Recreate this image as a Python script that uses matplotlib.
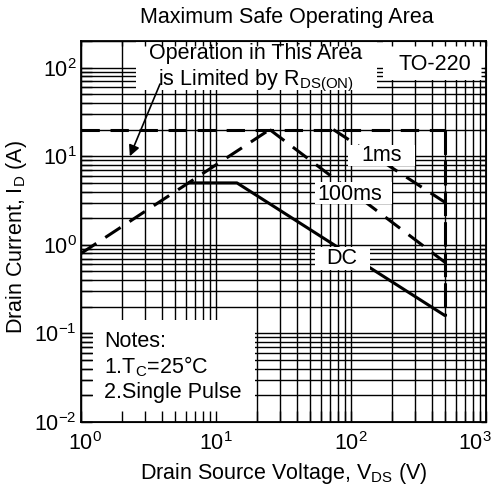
"""
soa_chart.py
Maximum Safe Operating Area plot (TO-220 MOSFET datasheet style)
"""
import matplotlib
matplotlib.use("Agg")
import matplotlib.pyplot as plt
from matplotlib.patches import Rectangle
from matplotlib.ticker import LogLocator, FixedLocator
from matplotlib.transforms import ScaledTranslation

plt.rcParams["font.family"] = ["Liberation Sans", "DejaVu Sans"]
plt.rcParams["mathtext.fontset"] = "custom"
plt.rcParams["mathtext.rm"] = "Liberation Sans"
plt.rcParams["mathtext.it"] = "Liberation Sans:italic"
plt.rcParams["mathtext.default"] = "regular"

# SOA boundaries, V (volts) vs I (amps)
rds_v = [1, 25]
rds_i = [0.8, 20]
idm_v = [1, 500]
idm_i = [20, 20]
ms1_v = [74, 500]
ms1_i = [20, 3.0]
ms100_v = [25, 500]
ms100_i = [20, 0.63]
dc_v = [6.2, 14.3, 500]
dc_i = [5, 5, 0.158]
vdss_v = [500, 500]
vdss_i = [20, 0.158]

x_lim = [1, 1000]
y_lim = [0.01, 200]
x_major = [1, 10, 100, 1000]
y_major = [0.01, 0.1, 1, 10, 100]

FS = 15.5
W, H = 493, 494
L, R, T, B = 81, 486, 41, 422


def af(x, y):
    # pixel position -> axes fraction
    return (x - L) / (R - L), (B - y) / (B - T)


def setup_log(a):
    a.set_xscale("log")
    a.set_yscale("log")
    a.set_xlim(x_lim)
    a.set_ylim(y_lim)
    a.xaxis.set_major_locator(FixedLocator(x_major))
    a.yaxis.set_major_locator(FixedLocator(y_major))
    for axis in (a.xaxis, a.yaxis):
        axis.set_minor_locator(LogLocator(base=10, subs=range(2, 10), numticks=20))


def overlay(fig, rect, base, **tick_kw):
    # transparent axes on top, only for tick marks
    a = fig.add_axes(rect)
    setup_log(a)
    a.grid(False, which="both")
    a.set_zorder(base.get_zorder() + 1)
    a.patch.set_visible(False)
    a.tick_params(which="both", direction="in", width=1.0,
                  labelbottom=False, labelleft=False, **tick_kw)
    return a


def main():
    fig = plt.figure(figsize=(W / 100, H / 100), dpi=100)
    rect = [L / W, 1 - B / H, (R - L) / W, (B - T) / H]
    ax = fig.add_axes(rect)
    setup_log(ax)
    ax.set_axisbelow(True)
    ax.grid(True, which="both", color="k", lw=1.0)
    ax.tick_params(which="both", length=0, labelsize=FS)
    ax.tick_params(axis="x", pad=7)
    ax.tick_params(axis="y", pad=3)
    for s in ax.spines.values():
        s.set_visible(False)

    # first x label sits a bit right, last one pulled in from the edge
    xt = ax.xaxis.get_major_ticks()
    for k, d in ((0, 4), (len(xt) - 1, -11)):
        lab = xt[k].label1
        lab.set_transform(lab.get_transform() + ScaledTranslation(d / 100, 0, fig.dpi_scale_trans))

    dash = (0, (6, 3.5))
    kw = dict(color="k", lw=2.2, zorder=2, solid_capstyle="butt")
    ax.plot(idm_v, idm_i, linestyle=dash, **kw)
    ax.plot(rds_v, rds_i, linestyle=dash, **kw)
    ax.plot(ms1_v, ms1_i, linestyle=dash, **kw)
    ax.plot(ms100_v, ms100_i, linestyle=dash, **kw)
    ax.plot(vdss_v, vdss_i, linestyle=(0, (8, 2)), **kw)
    ax.plot(dc_v, dc_i, linestyle="-", **kw)

    # white label boxes (cover the grid)
    boxes = [(136, 41, 377, 90), (383, 41, 484, 80), (348, 145, 415, 166),
             (315, 182, 392, 204), (315, 247, 370, 270), (93, 320, 255, 422)]
    for x0, y0, x1, y1 in boxes:
        fx0, fy1 = af(x0, y0)
        fx1, fy0 = af(x1, y1)
        ax.add_patch(Rectangle((fx0, fy0), fx1 - fx0, fy1 - fy0,
                               transform=ax.transAxes, fc="white", ec="none",
                               zorder=3, clip_on=False))

    def label(x, y, s, ha="center"):
        ax.text(*af(x, y), s, transform=ax.transAxes, ha=ha, va="baseline",
                fontsize=FS, zorder=4)

    label(256, 59, "Operation in This Area")
    label(256, 85, r"is Limited by R$_{DS(ON)}$")
    label(435, 70, "TO-220")
    label(382, 161, "1ms")
    label(350, 200, "100ms")
    label(342, 264, "DC")
    label(104, 347, "Notes:", ha="left")
    label(104, 373, r"1.T$_C$=25°C", ha="left")
    label(104, 398, "2.Single Pulse", ha="left")

    ax.annotate("", xy=(2.3, 10), xycoords="data",
                xytext=af(160, 84), textcoords="axes fraction",
                arrowprops=dict(arrowstyle="-|>", color="k", lw=1.2,
                                mutation_scale=16, shrinkA=0, shrinkB=0),
                zorder=4)

    # long ticks bottom/left, short ticks top/right
    overlay(fig, rect, ax, bottom=True, left=True, top=False, right=False, length=8)
    ax3 = overlay(fig, rect, ax, bottom=False, left=False, top=True, right=True, length=3.5)
    for s in ax3.spines.values():
        s.set_linewidth(1.3)

    fig.text(287 / W, 1 - 17 / H, "Maximum Safe Operating Area",
             ha="center", va="center", fontsize=FS)
    fig.text(284 / W, 1 - 473 / H, r"Drain Source Voltage, V$_{DS}$ (V)",
             ha="center", va="center", fontsize=FS)
    fig.text(17 / W, 1 - 237 / H, r"Drain Current, I$_D$ (A)",
             ha="center", va="center", rotation=90, fontsize=FS)

    fig.savefig("out.png", dpi=100)
    plt.close(fig)


if __name__ == "__main__":
    main()
